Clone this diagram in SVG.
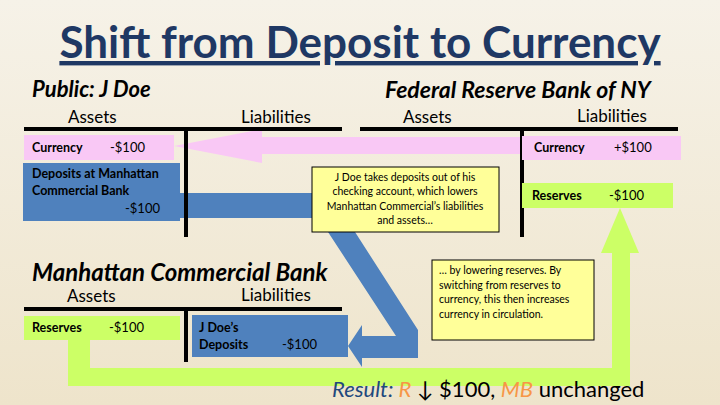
<svg xmlns="http://www.w3.org/2000/svg" width="720" height="405" viewBox="0 0 720 405">
<defs>
<linearGradient id="bg" x1="0" y1="0" x2="0" y2="1"><stop offset="0" stop-color="#F6F2E8"/><stop offset="1" stop-color="#EEE4CB"/></linearGradient>
<style>
text{font-family:Lato,"Open Sans",sans-serif;fill:#000}
.h{font-size:17px}
.it{font-size:22px;font-style:italic;font-weight:bold}
.b{font-size:12.5px;font-weight:bold}
.n{font-size:13px}
.y{font-size:10.5px}
.ln{stroke:#000;stroke-width:4}
.pink{fill:#F9C8F5}
.blue{fill:#4F81BD}
.green{fill:#CCFF66}
.note{fill:#FFFF99;stroke:#000;stroke-width:1}
</style>
</defs>
<rect width="720" height="405" fill="url(#bg)"/>
<text x="360" y="58" text-anchor="middle" style="font-size:44px;font-weight:bold;fill:#1F3864;text-decoration:underline">Shift from Deposit to Currency</text>

<g id="connectors">
<polygon class="pink" points="680,137 262,137 262,129 174,146 262,163 262,154 680,154"/>
<polygon class="blue" points="180,193 312,193 312,218 180,218"/>
<polygon class="blue" points="328,232 355,232 418,330 418,358 362,358 362,367 348,346 362,325 362,336 396,336"/>
<polygon class="green" points="68,340 90,340 90,368 612,368 612,253 601,253 620,208 639,253 630,253 630,386 68,386"/>
</g>

<g id="public">
<text x="32" y="97" class="it">Public: J Doe</text>
<text x="68" y="123" class="h">Assets</text>
<text x="241" y="123" class="h">Liabilities</text>
<line class="ln" x1="24" y1="129" x2="342" y2="129"/>
<line class="ln" x1="186" y1="129" x2="186" y2="237"/>
<rect class="pink" x="24" y="135" width="150" height="25"/>
<text x="32" y="152" class="b">Currency</text><text x="110" y="152" class="n">-$100</text>
<rect class="blue" x="23" y="163" width="157" height="58"/>
<text x="32" y="178" class="b">Deposits at Manhattan</text>
<text x="32" y="195" class="b">Commercial Bank</text>
<text x="125" y="213" class="n">-$100</text>
</g>

<g id="fed">
<text x="385" y="98" class="it" style="font-size:23px">Federal Reserve Bank of NY</text>
<text x="403" y="123" class="h">Assets</text>
<text x="577" y="122" class="h">Liabilities</text>
<line class="ln" x1="360" y1="129" x2="678" y2="129"/>
<line class="ln" x1="522" y1="129" x2="522" y2="237"/>
<rect class="pink" x="522" y="136" width="159" height="24"/>
<text x="534" y="152" class="b">Currency</text><text x="614" y="152" class="n">+$100</text>
<rect class="green" x="522" y="183" width="151" height="25"/>
<text x="532" y="200" class="b">Reserves</text><text x="609" y="200" class="n">-$100</text>
</g>

<g id="mcb">
<text x="32" y="281" class="it" style="font-size:24px">Manhattan Commercial Bank</text>
<text x="67" y="302" class="h">Assets</text>
<text x="241" y="301" class="h">Liabilities</text>
<line class="ln" x1="24" y1="309" x2="342" y2="309"/>
<line class="ln" x1="186" y1="309" x2="186" y2="362"/>
<rect class="green" x="24" y="316" width="156" height="24"/>
<text x="32" y="332" class="b">Reserves</text><text x="109" y="332" class="n">-$100</text>
<rect class="blue" x="192" y="315" width="156" height="42"/>
<text x="199" y="332" class="b">J Doe’s</text>
<text x="199" y="349" class="b">Deposits</text><text x="282" y="349" class="n">-$100</text>
</g>

<g id="note1">
<rect class="note" x="312" y="167" width="187" height="65"/>
<text x="405" y="181" class="y" text-anchor="middle">J Doe takes deposits out of his</text>
<text x="405" y="195" class="y" text-anchor="middle">checking account, which lowers</text>
<text x="405" y="210" class="y" text-anchor="middle">Manhattan Commercial’s liabilities</text>
<text x="405" y="224" class="y" text-anchor="middle">and assets…</text>
</g>

<g id="note2">
<rect class="note" x="432" y="260" width="162" height="80"/>
<text x="439" y="274" class="y">… by lowering reserves. By</text>
<text x="439" y="289" class="y">switching from reserves to</text>
<text x="439" y="303" class="y">currency, this then increases</text>
<text x="439" y="318" class="y">currency in circulation.</text>
</g>

<text x="332" y="397" style="font-size:22px"><tspan style="font-style:italic;fill:#1F497D">Result: </tspan><tspan style="font-style:italic;fill:#F79646">R</tspan> ↓ $100, <tspan style="font-style:italic;fill:#F79646">MB</tspan> unchanged</text>
</svg>
